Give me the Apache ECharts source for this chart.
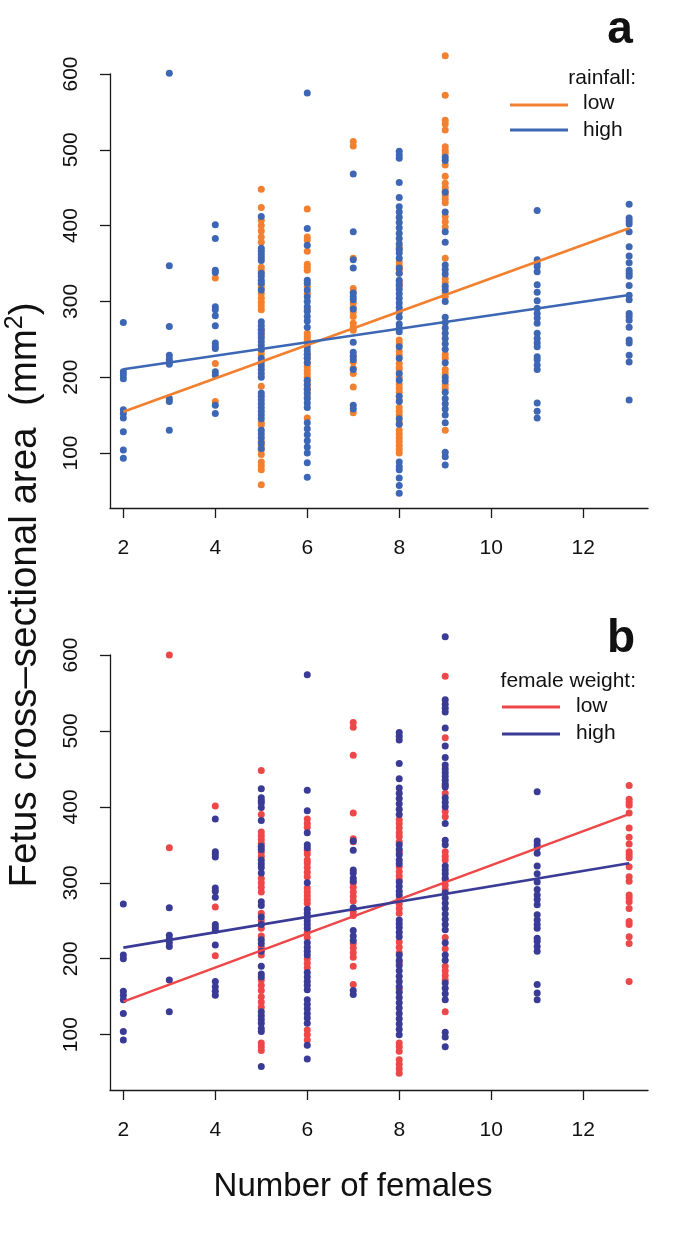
<!DOCTYPE html>
<html>
<head>
<meta charset="utf-8">
<script src="https://cdn.jsdelivr.net/npm/echarts@6/dist/echarts.min.js"></script>
<style>
html,body{margin:0;padding:0;background:#fff;}
#chart{width:675px;height:1246px;}
</style>
</head>
<body>
<div id="chart"></div>
<script>
// x categories (number of females)
const xCols = [2, 3, 4, 5, 6, 7, 8, 9, 11, 13];
const xTicks = [2, 4, 6, 8, 10, 12];
const yTicks = [100, 200, 300, 400, 500, 600];

// Panel a: rainfall low (orange) per column
const rainLow = [
  [],
  [],
  [331, 218, 168],
  [448, 424, 407, 400, 393, 385, 378, 345, 340, 322, 318, 310, 304, 299, 294, 289, 262, 255, 235, 230, 188, 140, 137, 115, 110, 104, 98, 88, 83, 78, 58],
  [422, 385, 381, 366, 349, 345, 341, 320, 310, 290, 258, 254, 250, 245, 230, 225, 219, 214, 209, 205, 200, 195, 190, 185, 180, 174, 146],
  [511, 505, 357, 317, 312, 298, 292, 286, 280, 271, 266, 262, 227, 220, 212, 205, 187, 153],
  [372, 368, 352, 347, 342, 337, 325, 320, 249, 244, 234, 229, 218, 213, 210, 200, 190, 185, 180, 170, 160, 155, 150, 140, 130, 125, 120, 115, 110, 105, 100],
  [624, 572, 539, 534, 526, 504, 499, 495, 480, 465, 456, 450, 445, 440, 435, 430, 412, 405, 398, 357, 330, 325, 311, 306, 230, 225, 210, 205, 190, 185, 130],
  [],
  []
];
// Panel a: rainfall high (blue) per column
const rainHigh = [
  [272, 207, 203, 198, 157, 152, 146, 128, 104, 93],
  [601, 347, 267, 229, 224, 220, 217, 172, 168, 130],
  [401, 383, 341, 338, 293, 289, 281, 268, 245, 241, 238, 207, 203, 163, 152],
  [412, 370, 366, 362, 358, 354, 337, 333, 328, 324, 315, 273, 268, 263, 258, 252, 247, 242, 237, 225, 220, 215, 210, 205, 200, 179, 175, 170, 165, 160, 155, 150, 145, 130, 125, 120, 113, 106],
  [575, 396, 374, 328, 324, 315, 306, 300, 293, 287, 280, 274, 266, 240, 235, 230, 225, 219, 196, 190, 184, 178, 172, 166, 160, 140, 132, 124, 116, 108, 100, 87, 68],
  [468, 392, 355, 344, 311, 306, 302, 290, 246, 233, 228, 223, 210, 163, 158],
  [498, 493, 489, 457, 437, 425, 418, 411, 404, 397, 390, 383, 376, 369, 364, 357, 344, 337, 328, 322, 316, 310, 304, 298, 292, 286, 279, 270, 265, 260, 240, 225, 205, 196, 175, 168, 145, 138, 88, 82, 78, 67, 57, 47],
  [490, 486, 444, 418, 392, 378, 348, 342, 336, 320, 315, 300, 279, 272, 265, 258, 251, 244, 237, 219, 200, 195, 180, 172, 165, 158, 150, 140, 101, 95, 84],
  [420, 355, 350, 346, 339, 322, 312, 301, 291, 284, 278, 271, 258, 251, 245, 240, 227, 223, 216, 210, 166, 155, 146],
  [428, 410, 406, 402, 392, 372, 360, 351, 341, 337, 333, 321, 308, 302, 284, 280, 275, 266, 249, 245, 229, 220, 170]
];
// Panel b: female weight low (red) per column
const weightLow = [
  [],
  [600, 346],
  [401, 268, 204],
  [448, 390, 367, 362, 357, 352, 340, 335, 306, 300, 294, 288, 260, 250, 240, 230, 215, 205, 172, 165, 158, 150, 143, 136, 89, 84, 79],
  [384, 378, 373, 343, 338, 330, 326, 320, 314, 308, 293, 288, 283, 278, 273, 235, 228, 200, 194, 188, 106, 100, 93],
  [511, 505, 468, 392, 358, 354, 300, 294, 288, 282, 276, 262, 257, 220, 214, 208, 202, 190, 166],
  [383, 378, 372, 366, 361, 354, 340, 321, 315, 309, 304, 278, 272, 266, 260, 222, 215, 208, 195, 160, 89, 84, 78, 67, 61, 55, 49],
  [572, 491, 428, 418, 394, 387, 341, 335, 330, 304, 297, 291, 228, 213, 190, 184, 178, 172, 130],
  [],
  [428, 410, 406, 402, 392, 372, 360, 351, 341, 337, 333, 321, 308, 302, 284, 280, 275, 266, 249, 245, 229, 220, 170]
];
// Panel b: female weight high (navy) per column
const weightHigh = [
  [272, 205, 200, 157, 152, 146, 128, 104, 93],
  [267, 231, 226, 221, 216, 172, 130],
  [384, 341, 338, 334, 293, 289, 281, 245, 241, 237, 218, 170, 163, 157, 152],
  [424, 412, 408, 405, 399, 382, 348, 344, 330, 325, 320, 313, 275, 270, 255, 245, 225, 220, 210, 190, 180, 176, 130, 125, 120, 115, 108, 104, 58],
  [574, 422, 395, 366, 350, 346, 300, 265, 260, 255, 250, 245, 240, 221, 215, 210, 205, 182, 176, 170, 165, 159, 146, 140, 134, 128, 122, 115, 86, 68],
  [355, 343, 317, 313, 306, 302, 267, 237, 230, 224, 158, 153],
  [498, 493, 488, 457, 437, 425, 418, 411, 404, 397, 390, 350, 344, 337, 330, 325, 301, 295, 289, 284, 251, 246, 241, 235, 229, 205, 198, 191, 184, 177, 170, 163, 156, 149, 142, 135, 128, 121, 114, 107, 100],
  [624, 541, 535, 530, 525, 504, 480, 465, 455, 450, 445, 440, 435, 430, 426, 412, 406, 400, 378, 356, 350, 322, 317, 312, 306, 287, 280, 273, 266, 259, 252, 245, 238, 221, 205, 198, 168, 161, 154, 146, 103, 97, 84],
  [420, 355, 350, 346, 339, 322, 312, 301, 291, 284, 278, 271, 258, 251, 245, 240, 227, 223, 216, 210, 166, 155, 146],
  []
];
// Fitted lines: x range and y values at ends
const lineX = [2, 13];
const rainLowLine = [154.5, 396.4];
const rainHighLine = [210.4, 308.4];
const weightLowLine = [143.5, 390.4];
const weightHighLine = [214.6, 325.8];

const C_ORANGE = '#F2802F';
const C_BLUE = '#3D67B4';
const C_RED = '#EE4747';
const C_NAVY = '#3A3B96';
const FONT = 'Liberation Sans, Arial, Helvetica, sans-serif';

function pts(cols) {
  const out = [];
  cols.forEach((vals, i) => vals.forEach(v => out.push([xCols[i], v])));
  return out;
}
function linePts(ys) { return lineX.map((x, i) => [x, ys[i]]); }

const axisColor = '#1a1a1a';
function xAx(gi) {
  return {
    gridIndex: gi, type: 'value', min: 1.71, max: 13.41,
    axisLine: { show: true, lineStyle: { color: axisColor, width: 1.3 } },
    axisTick: { show: true, customValues: xTicks, length: 10, lineStyle: { color: axisColor, width: 1.3 } },
    axisLabel: { customValues: xTicks, fontSize: 21, color: '#111', margin: 30, fontFamily: FONT },
    splitLine: { show: false }
  };
}
function yAx(gi, min) {
  return {
    gridIndex: gi, type: 'value', min: min, max: 600,
    axisLine: { show: true, lineStyle: { color: axisColor, width: 1.3 } },
    axisTick: { show: true, customValues: yTicks, length: 10, lineStyle: { color: axisColor, width: 1.3 } },
    axisLabel: { customValues: yTicks, fontSize: 21, color: '#111', margin: 28, rotate: 90, fontFamily: FONT },
    splitLine: { show: false }
  };
}
function scat(name, cols, color, gi) {
  return { type: 'scatter', name, xAxisIndex: gi, yAxisIndex: gi, data: pts(cols), clip: false,
    symbolSize: 7, itemStyle: { color: color, opacity: 1 }, silent: true, z: 2 };
}
function fit(name, ys, color, gi) {
  return { type: 'line', name, xAxisIndex: gi, yAxisIndex: gi, data: linePts(ys),
    showSymbol: false, symbol: 'none', lineStyle: { color: color, width: 2.6 }, silent: true, z: 3 };
}

const chart = echarts.init(document.getElementById('chart'), null, { renderer: 'canvas' });
const txt = (t, x, y, size, align, opts) => Object.assign({
  type: 'text', x: x, y: y, silent: true,
  style: { text: t, fontSize: size, fontFamily: FONT, fill: '#111', align: align, verticalAlign: 'middle' }
}, opts || {});
const seg = (x1, x2, y, color) => ({
  type: 'line', silent: true, shape: { x1: x1, y1: y, x2: x2, y2: y },
  style: { stroke: color, lineWidth: 3 }
});
const bold = (t, x, y) => ({
  type: 'text', x: x, y: y, silent: true,
  style: { text: t, fontSize: 46, fontWeight: 'bold', fontFamily: FONT, fill: '#111', align: 'center', verticalAlign: 'middle' }
});

chart.setOption({
  animation: false,
  backgroundColor: '#fff',
  grid: [
    { left: 110, top: 74, width: 538, height: 434 },
    { left: 110, top: 655, width: 538, height: 435 }
  ],
  xAxis: [xAx(0), xAx(1)],
  yAxis: [yAx(0, 27.4), yAx(1, 27.1)],
  series: [
    scat('rain low', rainLow, C_ORANGE, 0),
    scat('rain high', rainHigh, C_BLUE, 0),
    fit('rain low fit', rainLowLine, C_ORANGE, 0),
    fit('rain high fit', rainHighLine, C_BLUE, 0),
    scat('weight low', weightLow, C_RED, 1),
    scat('weight high', weightHigh, C_NAVY, 1),
    fit('weight low fit', weightLowLine, C_RED, 1),
    fit('weight high fit', weightHighLine, C_NAVY, 1)
  ],
  graphic: [
    bold('a', 620, 30),
    bold('b', 621, 639),
    txt('rainfall:', 636, 78, 21, 'right'),
    seg(510, 568, 105, C_ORANGE),
    txt('low', 583, 103, 21, 'left'),
    seg(510, 568, 130, C_BLUE),
    txt('high', 583, 130, 21, 'left'),
    txt('female weight:', 636, 681, 21, 'right'),
    seg(502, 560, 707, C_RED),
    txt('low', 576, 706, 21, 'left'),
    seg(502, 560, 734, C_NAVY),
    txt('high', 576, 733, 21, 'left'),
    {
      type: 'text', x: 25, y: 595, rotation: Math.PI / 2, silent: true,
      style: {
        text: 'Fetus cross\u2013sectional area  (mm{sup|2})',
        fontSize: 38.5, fontFamily: FONT, fill: '#111', align: 'center', verticalAlign: 'middle',
        rich: { sup: { fontSize: 25, fontFamily: FONT, fill: '#111', verticalAlign: 'bottom', padding: [0, 0, 19, 0] } }
      }
    },
    txt('Number of females', 353, 1187, 33, 'center')
  ]
});
</script>
</body>
</html>
